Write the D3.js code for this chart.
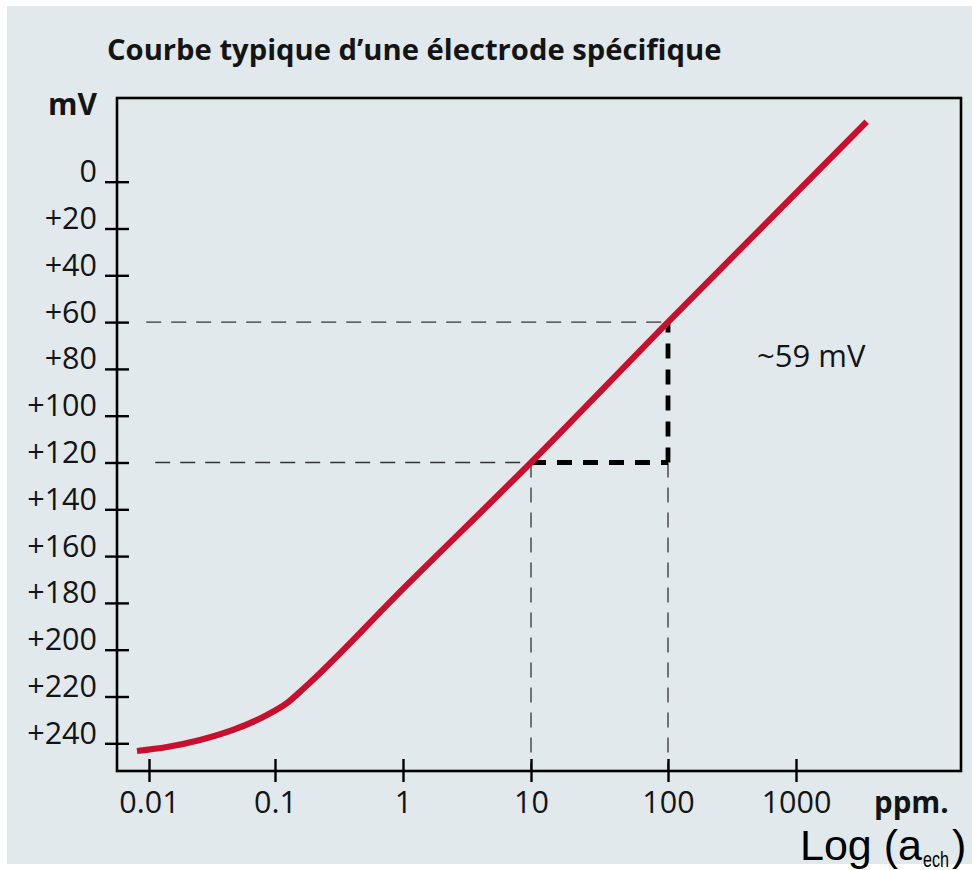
<!DOCTYPE html>
<html>
<head>
<meta charset="utf-8">
<script src="https://cdn.jsdelivr.net/npm/d3@7"></script>
<style>
  html, body { margin: 0; padding: 0; background: #ffffff; }
  svg { display: block; }
</style>
</head>
<body>
<svg id="chart" width="972" height="870"></svg>
<script>
// Typical response curve of an ion-selective electrode: potential (mV) vs. concentration (ppm, log scale)
const chartTitle = "Courbe typique d’une électrode spécifique";
const yUnit = "mV";
const xUnit = "ppm.";
const slopeLabel = "~59 mV";

const xTickValues = [0.01, 0.1, 1, 10, 100, 1000];
const xTickLabels = ["0.01", "0.1", "1", "10", "100", "1000"];
const yTickValues = [0, 20, 40, 60, 80, 100, 120, 140, 160, 180, 200, 220, 240];
const yTickLabels = ["0", "+20", "+40", "+60", "+80", "+100", "+120", "+140", "+160", "+180", "+200", "+220", "+240"];

// Electrode response: concentration (ppm) and potential (mV)
const curvePpm = [0.00803, 0.0139, 0.0254, 0.0464, 0.0864, 0.1241, 0.1655, 1, 10, 100, 3566];
const curveMv  = [243.3, 241.6, 238.6, 234.3, 227.9, 222.8, 216.8, 174, 120, 60, -25.6];

// One decade of the linear (Nernstian) region used to read the slope
const refPpm = [10, 100];
const refMv = [120, 60];
// Where the horizontal reading lines start on the left
const guideStartPpm = [0.0112, 0.0095];

const svg = d3.select("#chart");
const W = 972, H = 870;

// background panel
svg.append("rect").attr("x", 7).attr("y", 6).attr("width", W - 7).attr("height", 858).attr("fill", "#e1e9ec");

const frame = { left: 117, top: 98, right: 961, bottom: 771 };

const x = d3.scaleLog()
  .domain(xTickValues)
  .range([149, 275, 403, 531, 668, 796]);
const y = d3.scaleLinear().domain([0, 240]).range([181.7, 743.3]);

const labelFont = "'Open Sans', 'Noto Sans', sans-serif";
const ink = "#141414";

// title
svg.append("text")
  .attr("x", 107).attr("y", 60)
  .attr("font-family", labelFont).attr("font-weight", 700).attr("font-size", 29.2)
  .attr("fill", ink)
  .text(chartTitle);

// frame
svg.append("rect")
  .attr("x", frame.left).attr("y", frame.top)
  .attr("width", frame.right - frame.left).attr("height", frame.bottom - frame.top)
  .attr("fill", "none").attr("stroke", "#000").attr("stroke-width", 2.6);

// thin dashed reading lines
const thin = svg.append("g").attr("fill", "none").attr("stroke", "#333")
  .attr("stroke-width", 1.3).attr("stroke-dasharray", "15,10");
// horizontal at 60 mV and 120 mV
thin.append("line")
  .attr("x1", x(guideStartPpm[1])).attr("x2", x(refPpm[1]))
  .attr("y1", y(refMv[1])).attr("y2", y(refMv[1]));
thin.append("line")
  .attr("x1", x(guideStartPpm[0])).attr("x2", x(refPpm[0]))
  .attr("y1", y(refMv[0])).attr("y2", y(refMv[0]));
// verticals at 10 ppm and 100 ppm down to the axis
thin.append("line")
  .attr("x1", x(refPpm[0])).attr("x2", x(refPpm[0]))
  .attr("y1", y(refMv[0])).attr("y2", frame.bottom);
thin.append("line")
  .attr("x1", x(refPpm[1])).attr("x2", x(refPpm[1]))
  .attr("y1", y(refMv[0])).attr("y2", frame.bottom);

// bold dashed slope triangle
const thick = svg.append("g").attr("fill", "none").attr("stroke", "#000")
  .attr("stroke-width", 4.8).attr("stroke-dasharray", "15,11");
thick.append("line")
  .attr("x1", x(refPpm[0])).attr("x2", x(refPpm[1]))
  .attr("y1", y(refMv[0])).attr("y2", y(refMv[0]));
thick.append("line")
  .attr("x1", x(refPpm[1])).attr("x2", x(refPpm[1]))
  .attr("y1", y(refMv[0])).attr("y2", y(refMv[1]));

// y axis (ticks cross the frame line)
const yAxis = d3.axisLeft(y).tickValues(yTickValues)
  .tickFormat((d, i) => yTickLabels[i]).tickSize(12).tickPadding(8);
const gy = svg.append("g").attr("transform", `translate(${frame.left},0)`).call(yAxis);
gy.select(".domain").remove();
gy.selectAll(".tick line").attr("stroke", "#000").attr("stroke-width", 2.4).attr("x2", 12).attr("x1", -12);
gy.selectAll(".tick text")
  .attr("dy", 0).attr("font-family", labelFont).attr("font-size", 30.5).attr("fill", ink);

// x axis
const xAxis = d3.axisBottom(x).tickValues(xTickValues)
  .tickFormat((d, i) => xTickLabels[i]).tickSize(12);
const gx = svg.append("g").attr("transform", `translate(0,${frame.bottom})`).call(xAxis);
gx.select(".domain").remove();
gx.selectAll(".tick line").attr("stroke", "#000").attr("stroke-width", 2.4).attr("y1", -12).attr("y2", 11);
gx.selectAll(".tick text")
  .attr("y", 42).attr("dy", 0).attr("font-family", labelFont).attr("font-size", 30.5).attr("fill", ink);

// unit labels
svg.append("text")
  .attr("x", 97).attr("y", 115).attr("text-anchor", "end")
  .attr("font-family", labelFont).attr("font-weight", 700).attr("font-size", 30)
  .attr("fill", ink).text(yUnit);
svg.append("text")
  .attr("x", 874).attr("y", 813)
  .attr("font-family", labelFont).attr("font-weight", 700).attr("font-size", 29.5)
  .attr("fill", ink).text(xUnit);

// slope annotation
svg.append("text")
  .attr("x", 757).attr("y", 367)
  .attr("font-family", labelFont).attr("font-size", 31)
  .attr("fill", ink).text(slopeLabel);

// electrode response curve
const pts = curvePpm.map((p, i) => [p, curveMv[i]]);
const line = d3.line().x(d => x(d[0])).y(d => y(d[1])).curve(d3.curveMonotoneX);
svg.append("path")
  .attr("d", line(pts))
  .attr("fill", "none").attr("stroke", "#c8102e").attr("stroke-width", 6.2)
  .attr("stroke-linecap", "butt").attr("stroke-linejoin", "round");

// axis caption: Log (a_ech), built from three pieces laid end to end
const capFont = "'Liberation Sans', Arial, sans-serif";
const capMain = svg.append("text")
  .attr("x", 800).attr("y", 860)
  .attr("font-family", capFont).attr("font-size", 43).attr("fill", "#000")
  .text("Log (a");
const subX = 800 + capMain.node().getComputedTextLength() + 1;
svg.append("text")
  .attr("x", subX).attr("y", 867)
  .attr("font-family", capFont).attr("font-size", 22).attr("fill", "#000")
  .attr("textLength", 26).attr("lengthAdjust", "spacingAndGlyphs")
  .text("ech");
svg.append("text")
  .attr("x", subX + 29).attr("y", 860)
  .attr("font-family", capFont).attr("font-size", 43).attr("fill", "#000")
  .text(")");
</script>
</body>
</html>
